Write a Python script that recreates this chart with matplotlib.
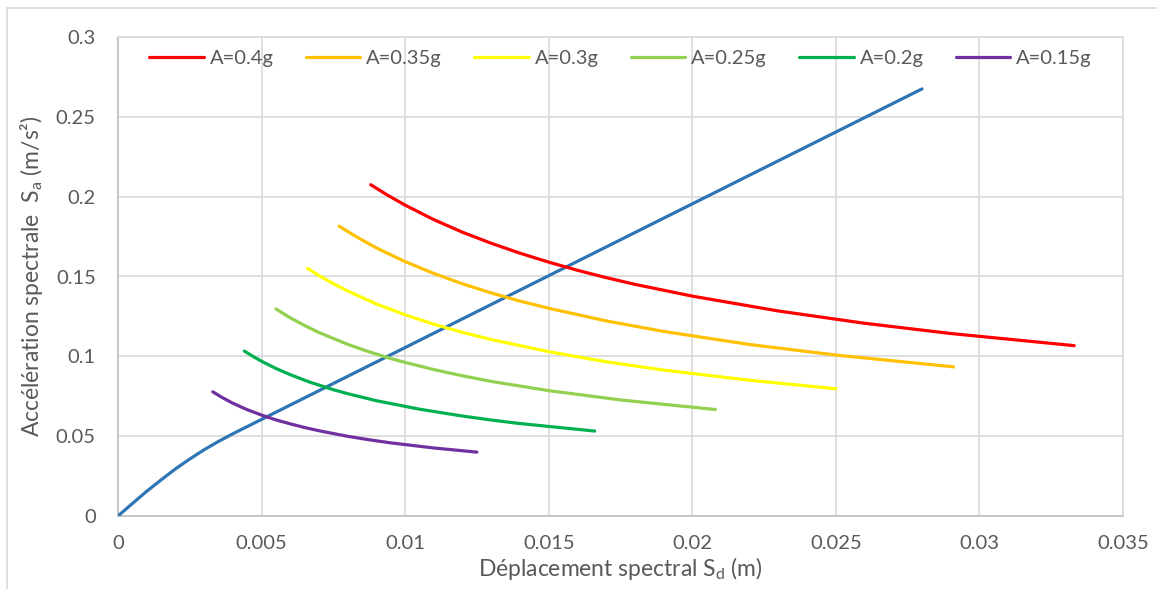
import matplotlib.pyplot as plt
import matplotlib.ticker as mticker
from matplotlib.patches import Rectangle

plt.rcParams['font.family'] = ['Lato', 'DejaVu Sans']

# capacity curve (blue)
sd_cap = [0, 0.0005, 0.001, 0.0015, 0.002, 0.0025, 0.003, 0.0035, 0.004, 0.005, 0.006,
          0.01, 0.015, 0.02, 0.028]
sa_cap = [0, 0.0078, 0.0155, 0.0226, 0.0295, 0.0357, 0.0415, 0.0467, 0.0515, 0.0605, 0.0695,
          0.1055, 0.1505, 0.1955, 0.2675]

# demand curves
labels = ['A=0.4g', 'A=0.35g', 'A=0.3g', 'A=0.25g', 'A=0.2g', 'A=0.15g']
colors = ['#FF0000', '#FFC000', '#FFFF00', '#92D050', '#00B050', '#7030A0']

sd_04 = [0.0088, 0.0094, 0.010, 0.011, 0.012, 0.013, 0.014, 0.015, 0.016, 0.017, 0.018,
         0.020, 0.023, 0.026, 0.029, 0.0333]
sa_04 = [0.2075, 0.2008, 0.1947, 0.1856, 0.1777, 0.1708, 0.1646, 0.1590, 0.1539, 0.1493, 0.1451,
         0.1377, 0.1284, 0.1207, 0.1143, 0.1067]
sd_035 = [0.0077, 0.0083, 0.009, 0.010, 0.011, 0.012, 0.013, 0.014, 0.015, 0.017, 0.019,
          0.022, 0.025, 0.0291]
sa_035 = [0.1815, 0.1749, 0.1679, 0.1593, 0.1519, 0.1454, 0.1397, 0.1346, 0.1301, 0.1222, 0.1156,
          0.1074, 0.1008, 0.0934]
sd_03 = [0.0066, 0.007, 0.0075, 0.008, 0.009, 0.010, 0.011, 0.012, 0.013, 0.015, 0.017,
         0.019, 0.022, 0.025]
sa_03 = [0.1551, 0.1506, 0.1455, 0.1409, 0.1328, 0.1260, 0.1201, 0.1150, 0.1105, 0.1029, 0.0966,
         0.0914, 0.0850, 0.0797]
sd_025 = [0.0055, 0.006, 0.0065, 0.007, 0.008, 0.0087, 0.0095, 0.010, 0.011, 0.012, 0.013,
          0.015, 0.0175, 0.0208]
sa_025 = [0.1297, 0.1241, 0.1193, 0.1149, 0.1075, 0.1031, 0.0986, 0.0962, 0.0917, 0.0878, 0.0843,
          0.0785, 0.0727, 0.0667]
sd_02 = [0.0044, 0.0047, 0.005, 0.0055, 0.006, 0.0067, 0.0075, 0.008, 0.009, 0.0105, 0.012,
         0.013, 0.014, 0.0166]
sa_02 = [0.1033, 0.1000, 0.0969, 0.0924, 0.0885, 0.0837, 0.0791, 0.0766, 0.0722, 0.0669, 0.0626,
         0.0601, 0.0579, 0.0532]
sd_015 = [0.0033, 0.0036, 0.004, 0.0045, 0.005, 0.0055, 0.006, 0.0065, 0.007, 0.008, 0.0088,
          0.0095, 0.011, 0.0125]
sa_015 = [0.0778, 0.0745, 0.0706, 0.0666, 0.0632, 0.0602, 0.0577, 0.0554, 0.0534, 0.0499, 0.0476,
          0.0458, 0.0426, 0.0400]

demand = [(sd_04, sa_04), (sd_035, sa_035), (sd_03, sa_03),
          (sd_025, sa_025), (sd_02, sa_02), (sd_015, sa_015)]

fig = plt.figure(figsize=(11.57, 5.89), dpi=100)
ax = fig.add_axes([118/1157, 1-516/589, (1123-118)/1157, (516-37)/589])

# outer chart border
fig.patches.append(Rectangle((7/1157, -0.05), 1.1, 1-8/589+0.05, transform=fig.transFigure,
                             fill=False, edgecolor='#D9D9D9', lw=1.2))

ax.plot(sd_cap, sa_cap, color='#2E75B6', lw=2.3, solid_capstyle='round', zorder=3)
for (sd, sa), c, lab in zip(demand, colors, labels):
    ax.plot(sd, sa, color=c, lw=2.3, label=lab, solid_capstyle='round',
            solid_joinstyle='round', zorder=3)

ax.set_xlim(0, 0.035)
ax.set_ylim(0, 0.3)
ax.xaxis.set_major_locator(mticker.MultipleLocator(0.005))
ax.yaxis.set_major_locator(mticker.MultipleLocator(0.05))
fmt = mticker.FuncFormatter(lambda v, p: '%g' % round(v, 4))
ax.xaxis.set_major_formatter(fmt)
ax.yaxis.set_major_formatter(fmt)
ax.tick_params(length=0, labelsize=14.5, colors='#595959')
ax.tick_params(axis='y', pad=16)
ax.tick_params(axis='x', pad=14)
ax.grid(True, color='#D9D9D9', lw=1.2)
for s in ax.spines.values():
    s.set_color('#D9D9D9')
    s.set_linewidth(1.2)
ax.spines['left'].set_color('#BFBFBF')
ax.spines['bottom'].set_color('#BFBFBF')

ax.set_xlabel(r'Déplacement spectral S$_{\mathregular{d}}$ (m)', fontsize=16.5, color='#595959', labelpad=2)
ax.set_ylabel(r'Accélération spectrale  S$_{\mathregular{a}}$ (m/s²)', fontsize=16.5, color='#595959', labelpad=8)

leg = ax.legend(ncol=6, loc='upper center', bbox_to_anchor=(0.5, 1.0), frameon=False,
                fontsize=14.5, handlelength=2.7, handletextpad=0.3, columnspacing=1.6,
                borderaxespad=0.25)
for t in leg.get_texts():
    t.set_color('#595959')

fig.savefig('out.png', dpi=100)
